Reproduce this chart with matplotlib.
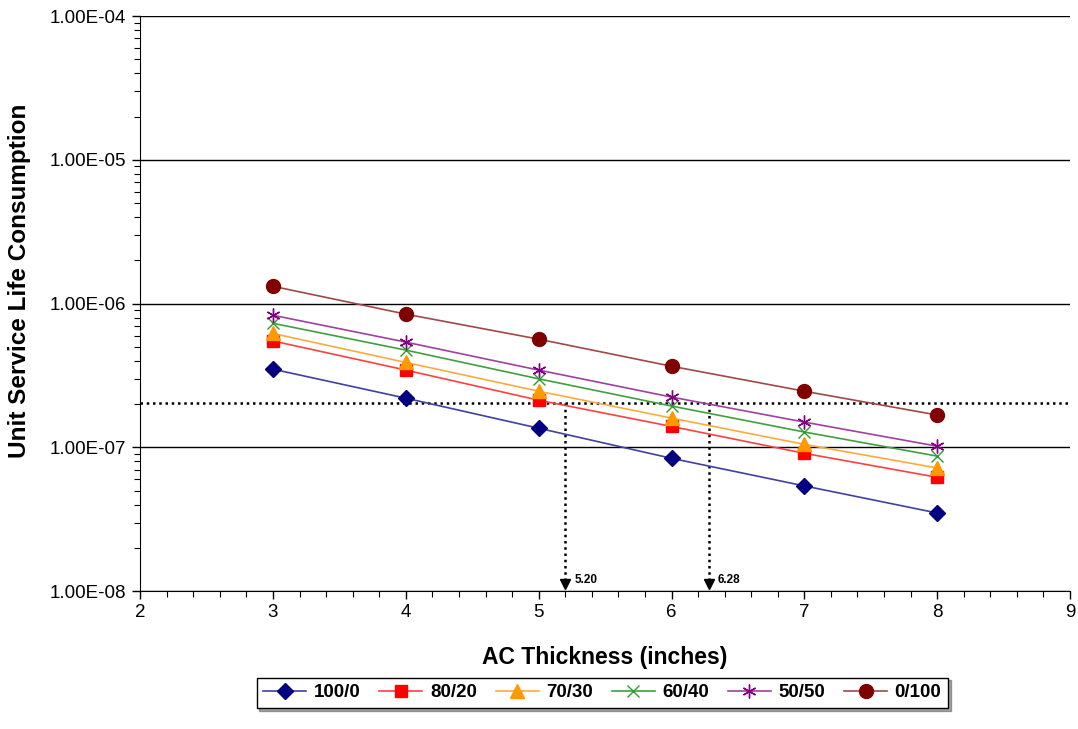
import numpy as np
import matplotlib.pyplot as plt
from matplotlib.ticker import LogLocator, NullFormatter, MultipleLocator

plt.rcParams['font.family'] = ['Liberation Sans', 'DejaVu Sans']

thickness = [3, 4, 5, 6, 7, 8]
series_names = ["100/0", "80/20", "70/30", "60/40", "50/50", "0/100"]
s_100_0 = [3.5e-7, 2.2e-7, 1.36e-7, 8.4e-8, 5.4e-8, 3.5e-8]
s_80_20 = [5.5e-7, 3.45e-7, 2.13e-7, 1.4e-7, 9.1e-8, 6.2e-8]
s_70_30 = [6.2e-7, 3.9e-7, 2.46e-7, 1.6e-7, 1.05e-7, 7.2e-8]
s_60_40 = [7.3e-7, 4.75e-7, 3.0e-7, 1.94e-7, 1.28e-7, 8.7e-8]
s_50_50 = [8.3e-7, 5.4e-7, 3.45e-7, 2.24e-7, 1.5e-7, 1.02e-7]
s_0_100 = [1.32e-6, 8.45e-7, 5.66e-7, 3.67e-7, 2.46e-7, 1.68e-7]
threshold = 2.03e-7
crossings = [5.20, 6.28]
ytick_vals = [1e-8, 1e-7, 1e-6, 1e-5, 1e-4]
ytick_labels = ["1.00E-08", "1.00E-07", "1.00E-06", "1.00E-05", "1.00E-04"]

series = [s_100_0, s_80_20, s_70_30, s_60_40, s_50_50, s_0_100]
marker_colors = ["#000080", "#FF0000", "#FF9900", "#2E9E2E", "#800080", "#800000"]
line_colors = ["#4040A0", "#FF4040", "#FFAA40", "#40A040", "#A040A0", "#A04848"]
markers = ["D", "s", "^", "x", (6, 2, 0), "o"]
msizes = [8, 9, 10, 8, 10, 10]

fig = plt.figure(figsize=(10.78, 7.29), dpi=100)
ax = fig.add_axes([0.130, 0.189, 0.8626, 0.789])

for vals, name, mc, lc, m, ms in zip(series, series_names, marker_colors, line_colors, markers, msizes):
    ax.plot(thickness, vals, color=lc, lw=1.2, marker=m, ms=ms,
            mec=mc, mfc=mc, mew=1.0, label=name)

ax.set_yscale("log")
ax.set_xlim(2, 9)
ax.set_ylim(1e-8, 1e-4)

# threshold line and the two crossing thicknesses
ax.axhline(threshold, color="black", ls=(0, (1, 1.5)), lw=1.8, zorder=1)
for xc in crossings:
    ax.plot([xc, xc], [threshold, 1.05e-8], color="black", ls=(0, (1, 1.5)), lw=1.8, zorder=1)
    ax.plot([xc], [1.12e-8], marker="v", color="black", ms=7, zorder=3)
    ax.text(xc + 0.07, 1.2e-8, f"{xc:.2f}", fontsize=8.5, fontweight="bold",
            va="center", ha="left")

ax.yaxis.grid(True, which="major", color="black", lw=1.0)
ax.set_axisbelow(True)
ax.set_yticks(ytick_vals)
ax.set_yticklabels(ytick_labels)
ax.yaxis.set_minor_locator(LogLocator(base=10, subs=np.arange(2, 10), numticks=20))
ax.yaxis.set_minor_formatter(NullFormatter())
ax.xaxis.set_major_locator(MultipleLocator(1))
ax.xaxis.set_minor_locator(MultipleLocator(0.2))
ax.tick_params(axis="both", which="major", labelsize=13.5, length=6, direction="out", width=1)
ax.tick_params(axis="both", which="minor", length=4, direction="out", width=0.8)
ax.tick_params(axis="y", which="major", pad=4)

for side in ["top", "right"]:
    ax.spines[side].set_visible(False)

ax.set_xlabel("AC Thickness (inches)", fontsize=16.5, fontweight="bold", labelpad=18)
ax.set_ylabel("Unit Service Life Consumption", fontsize=17.5, fontweight="bold")
ax.yaxis.set_label_coords(-0.117, 0.54)

leg = ax.legend(loc="upper center", bbox_to_anchor=(0.497, -0.134), ncol=6,
                frameon=True, fancybox=False, shadow=True,
                prop={"weight": "bold", "size": 13.5}, handlelength=2.3,
                columnspacing=1.0, handletextpad=0.4, borderpad=0.35)
leg.get_frame().set_edgecolor("black")
leg.get_frame().set_linewidth(1.0)

fig.savefig("out.png", dpi=100)
